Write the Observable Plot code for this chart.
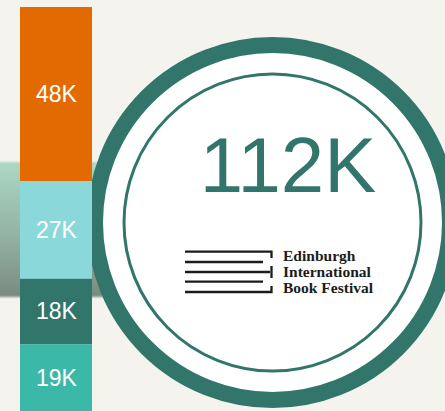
<!DOCTYPE html>
<html><head><meta charset="utf-8">
<script src="https://cdn.jsdelivr.net/npm/d3@7"></script>
<script src="https://cdn.jsdelivr.net/npm/@observablehq/plot@0.6"></script>
<style>
html,body{margin:0;padding:0;background:#f5f3ee;}
#chart{width:445px;height:411px;overflow:hidden;}
svg{display:block;}
</style></head><body><div id="chart"></div>
<script>
// Data (top-to-bottom as shown in the stacked bar)
const segments = ["A", "B", "C", "D"];
const values = [48, 27, 18, 19];
const labels = ["48K", "27K", "18K", "19K"];
const colors = ["#e36a00", "#8ad8d9", "#32766b", "#3bb8a8"];
const logoText = ["Edinburgh", "International", "Book Festival"];

const total = d3.sum(values);
const data = segments.map((s, i) => ({segment: s, value: values[i], label: labels[i], bar: "all"}));

const teal = "#32766b";
const ringOpts = {frameAnchor: "middle", dx: 49.5, dy: 16.5};

const svg = Plot.plot({
  width: 445,
  height: 411,
  margin: 0,
  style: {background: "transparent", overflow: "visible"},
  x: {type: "band", domain: ["all"], range: [20, 92], padding: 0, axis: null},
  y: {domain: [0, total], range: [413, 7], axis: null},
  color: {domain: segments, range: colors},
  marks: [
    Plot.dot([total], {...ringOpts, r: 177.5, fill: "white", stroke: teal, strokeWidth: 16}),
    Plot.dot([total], {...ringOpts, r: 148.5, fill: "none", stroke: teal, strokeWidth: 3}),
    Plot.text([total], {frameAnchor: "middle", dx: 65, dy: -39, text: d => d + "K",
      fontSize: 78, fill: teal, fontFamily: "Liberation Sans, Arial, sans-serif"}),
    Plot.barY(data, Plot.stackY({reverse: true}, {x: "bar", y: "value", fill: "segment"})),
    Plot.text(data, Plot.stackY({reverse: true}, {x: "bar", y: "value", text: "label",
      fill: "white", fontSize: 23, fontFamily: "Liberation Sans, Arial, sans-serif"}))
  ]
});

const root = d3.select(svg);
// blurred background shape on the left
const defs = root.insert("defs", ":first-child");
const grad = defs.append("linearGradient").attr("id", "bgGrad").attr("x1", 0).attr("y1", 0).attr("x2", 0).attr("y2", 1);
grad.append("stop").attr("offset", "0%").attr("stop-color", "#acd8c3");
grad.append("stop").attr("offset", "55%").attr("stop-color", "#93b3a2");
grad.append("stop").attr("offset", "100%").attr("stop-color", "#7a8a80");
const blur = defs.append("filter").attr("id", "soft");
blur.append("feGaussianBlur").attr("stdDeviation", 1.2);
root.insert("rect", "defs + *")
  .attr("x", -5).attr("y", 162).attr("width", 115).attr("height", 135)
  .attr("fill", "url(#bgGrad)").attr("filter", "url(#soft)");

// logo
const logo = root.append("g").attr("fill", "none").attr("stroke", "#1c1c1c").attr("stroke-width", 2.3);
logo.append("path").attr("d",
  "M185,251.7H271.5V258 M185,262H263 M185,272H270 M271.5,266V278 M185,281.7H263 M185,292H271.5V286");
const lt = root.append("g").attr("fill", "#1c1c1c")
  .attr("text-anchor", "start")
  .attr("font-family", "Liberation Serif, Times New Roman, serif")
  .attr("font-weight", "bold").attr("font-size", 15.5);
[260.7, 276.7, 293.3].forEach((y, i) => lt.append("text").attr("x", 283).attr("y", y).attr("text-anchor", "start").text(logoText[i]));

document.getElementById("chart").appendChild(svg);
</script>
</body></html>
